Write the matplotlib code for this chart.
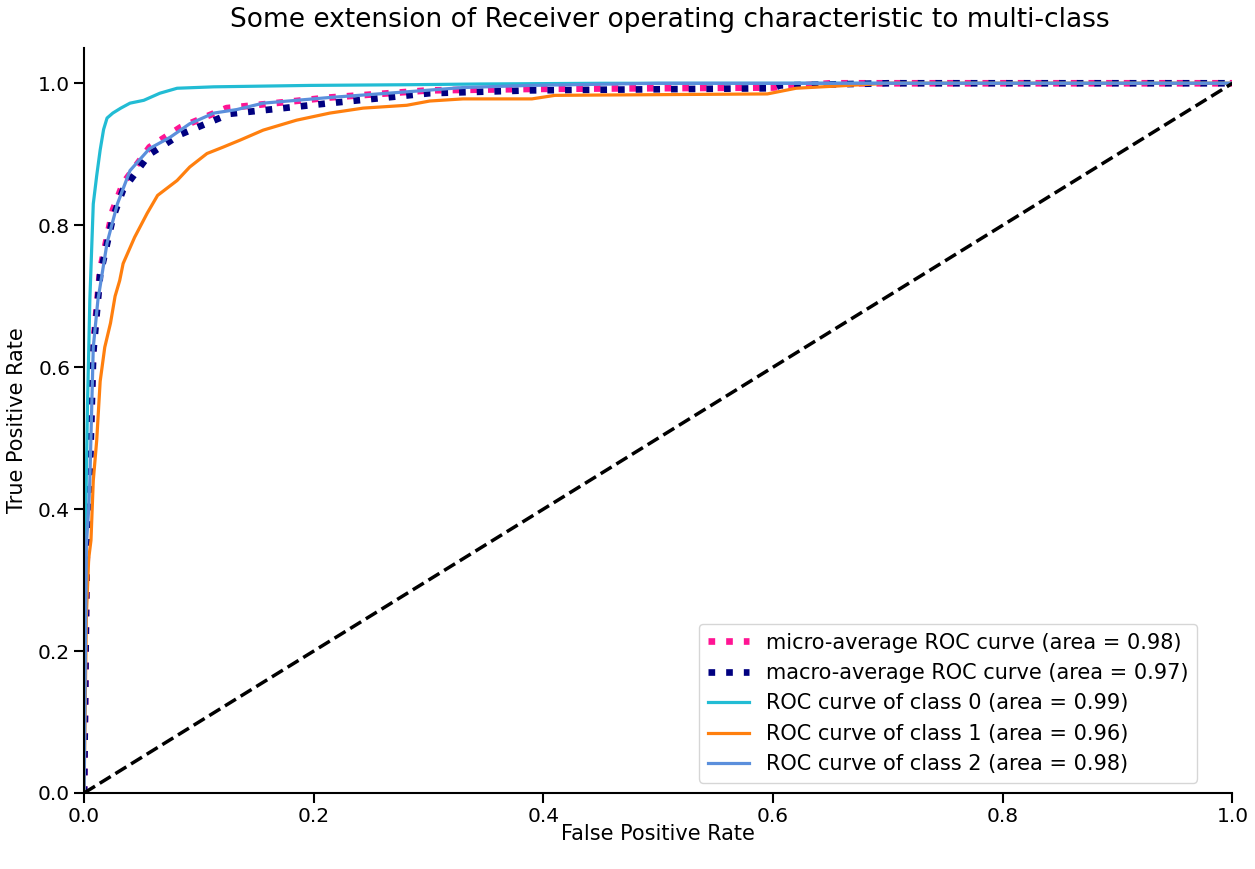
import matplotlib
matplotlib.use("Agg")
import matplotlib.pyplot as plt

# curve points
fpr_micro = [0.0, 0.002, 0.003, 0.005, 0.008, 0.014, 0.025, 0.034, 0.057, 0.084, 0.124, 0.214, 0.30, 0.388, 0.60, 0.65, 1.0]
tpr_micro = [0.0, 0.30, 0.40, 0.47, 0.63, 0.737, 0.821, 0.859, 0.91, 0.938, 0.965, 0.98, 0.99, 0.992, 0.994, 1.0, 1.0]

fpr_macro = [0.0, 0.002, 0.003, 0.005, 0.008, 0.014, 0.025, 0.034, 0.057, 0.084, 0.127, 0.214, 0.301, 0.388, 0.60, 0.606, 0.70, 1.0]
tpr_macro = [0.0, 0.30, 0.40, 0.45, 0.62, 0.73, 0.81, 0.85, 0.90, 0.928, 0.957, 0.972, 0.986, 0.990, 0.993, 0.997, 1.0, 1.0]

fpr0 = [0.0, 0.001, 0.003, 0.004, 0.005, 0.008, 0.011, 0.014, 0.017, 0.020, 0.025, 0.032, 0.040, 0.052, 0.066, 0.081, 0.113, 0.197, 0.284, 0.345, 0.45, 1.0]
tpr0 = [0.0, 0.35, 0.55, 0.62, 0.694, 0.83, 0.87, 0.906, 0.935, 0.951, 0.958, 0.965, 0.972, 0.976, 0.986, 0.993, 0.995, 0.997, 0.998, 0.999, 1.0, 1.0]

fpr1 = [0.0, 0.002, 0.004, 0.006, 0.008, 0.011, 0.014, 0.018, 0.023, 0.027, 0.031, 0.034, 0.044, 0.055, 0.064, 0.081, 0.092, 0.107, 0.121, 0.136, 0.156, 0.185, 0.214, 0.243, 0.281, 0.301, 0.330, 0.39, 0.41, 0.595, 0.62, 0.70, 1.0]
tpr1 = [0.0, 0.25, 0.33, 0.356, 0.44, 0.497, 0.58, 0.628, 0.662, 0.700, 0.722, 0.746, 0.783, 0.817, 0.842, 0.863, 0.882, 0.901, 0.910, 0.920, 0.934, 0.948, 0.958, 0.965, 0.969, 0.975, 0.978, 0.978, 0.983, 0.985, 0.993, 1.0, 1.0]

fpr2 = [0.0, 0.002, 0.004, 0.005, 0.008, 0.012, 0.020, 0.029, 0.040, 0.057, 0.075, 0.092, 0.113, 0.133, 0.156, 0.214, 0.273, 0.330, 0.388, 0.50, 1.0]
tpr2 = [0.0, 0.35, 0.40, 0.44, 0.628, 0.694, 0.775, 0.83, 0.877, 0.908, 0.924, 0.943, 0.958, 0.963, 0.972, 0.980, 0.987, 0.994, 0.997, 1.0, 1.0]

areas = {"micro": 0.98, "macro": 0.97, 0: 0.99, 1: 0.96, 2: 0.98}

fig = plt.figure(figsize=(12.55, 8.69), dpi=100)
ax = fig.add_axes([0.067, 0.0875, 0.915, 0.8575])

ax.plot(fpr_micro, tpr_micro, color="deeppink", linestyle=":", linewidth=4.8,
        label="micro-average ROC curve (area = {0:0.2f})".format(areas["micro"]))
ax.plot(fpr_macro, tpr_macro, color="navy", linestyle=":", linewidth=4.8,
        label="macro-average ROC curve (area = {0:0.2f})".format(areas["macro"]))

colors = ["#22bcd4", "#ff7f0e", "#5b8fdc"]
for i, (fp, tp) in enumerate([(fpr0, tpr0), (fpr1, tpr1), (fpr2, tpr2)]):
    ax.plot(fp, tp, color=colors[i], linewidth=2.3,
            label="ROC curve of class {0} (area = {1:0.2f})".format(i, areas[i]))

ax.plot([0, 1], [0, 1], "k--", linewidth=2.5)
ax.set_xlim(0.0, 1.0)
ax.set_ylim(0.0, 1.05)
ax.spines["top"].set_visible(False)
ax.spines["right"].set_visible(False)
ax.tick_params(labelsize=14.5, length=7, width=1.5, pad=3)
for s in ["left", "bottom"]:
    ax.spines[s].set_linewidth(1.5)
ax.set_xlabel("False Positive Rate", fontsize=15, labelpad=-1)
ax.set_ylabel("True Positive Rate", fontsize=15, labelpad=8)
ax.set_title("Some extension of Receiver operating characteristic to multi-class",
             fontsize=19, pad=15, x=0.51)
ax.legend(loc="lower right", fontsize=15, bbox_to_anchor=(0.978, 0.0))
fig.savefig("out.png", dpi=100)
